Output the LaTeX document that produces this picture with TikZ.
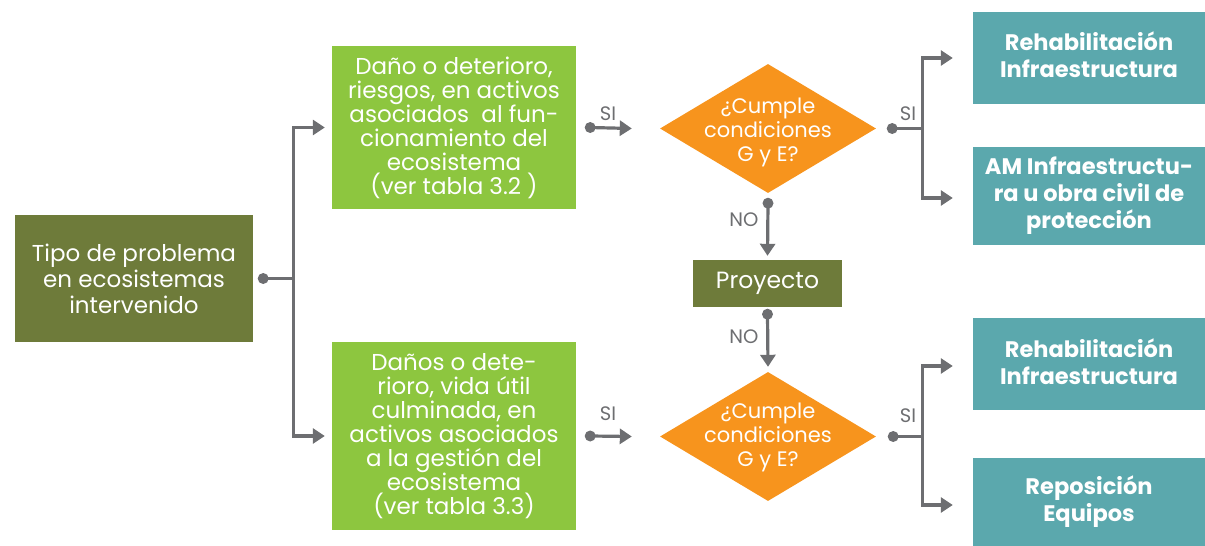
\documentclass[tikz,border=0pt]{standalone}
\usepackage{fontspec}
\setmainfont{Poppins}
\usetikzlibrary{shapes.geometric,arrows.meta}
\definecolor{olive}{HTML}{6E7B3A}
\definecolor{lgreen}{HTML}{8DC63F}
\definecolor{orng}{HTML}{F7941D}
\definecolor{teal2}{HTML}{5BA8AD}
\definecolor{gry}{HTML}{6D6E71}
\tikzset{
  box/.style={draw=none,inner sep=0pt,align=center,text=white,font=\fontsize{23}{24}\selectfont},
  olivebox/.style={box,fill=olive},
  greenbox/.style={box,fill=lgreen,minimum width=244pt},
  tealbox/.style={box,fill=teal2,minimum width=232pt,font=\fontsize{22.5}{27}\selectfont\bfseries},
  decision/.style={diamond,fill=orng,draw=none,inner sep=0pt,minimum width=216pt,minimum height=129pt},
  dtext/.style={align=center,text=white,font=\fontsize{21}{24}\selectfont},
  conn/.style={draw=gry,line width=3.2pt,-{Triangle[length=12pt,width=15pt]}},
  plain/.style={draw=gry,line width=3.2pt},
  dot/.style={fill=gry},
  lbl/.style={text=gry,font=\fontsize{19.5}{20}\selectfont,inner sep=0pt}
}
\begin{document}
\begin{tikzpicture}[x=1pt,y=-1pt]
\useasboundingbox (0,0) rectangle (1205,546);
% nodes
\node[olivebox,minimum width=238pt,minimum height=127pt,font=\fontsize{23}{26}\selectfont] (tipo) at (134,278.5) {Tipo de problema\\en ecosistemas\\intervenido};
\node[greenbox,minimum height=163pt] (g1) at (454,127.5) {Daño o deterioro,\\riesgos, en activos\\asociados\ \ al fun-\\cionamiento del\\ecosistema\\(ver tabla 3.2 )};
\node[greenbox,minimum height=188pt] (g2) at (454,436) {Daños o dete-\\rioro, vida útil\\culminada, en\\activos asociados\\a la gestión del\\ecosistema\\(ver tabla 3.3)};
\node[decision] (c1) at (768,128.5) {};
\node[dtext] (c1t) at ([yshift=-4pt]c1.center) {¿Cumple\\condiciones\\G y E?};
\node[decision] (c2) at (768,436.5) {};
\node[dtext] (c2t) at ([yshift=-1pt]c2.center) {¿Cumple\\condiciones\\G y E?};
\node[olivebox,minimum width=149pt,minimum height=47pt,font=\fontsize{23.5}{26}\selectfont] (proy) at (767.5,283.5) {Proyecto};
\node[tealbox,minimum height=92pt] (t1) at (1089,58) {};
\node[tealbox,fill=none] (t1t) at ([yshift=3pt]t1.center) {Rehabilitación\\Infraestructura};
\node[tealbox,minimum height=98pt] (t2) at (1089,196) {AM Infraestructu-\\ra u obra civil de\\protección};
\node[tealbox,minimum height=92pt] (t3) at (1089,364) {};
\node[tealbox,fill=none] (t3t) at ([yshift=2pt]t3.center) {Rehabilitación\\Infraestructura};
\node[tealbox,minimum height=88pt] (t4) at (1089,502) {Reposición\\Equipos};
% connector anchor points
\coordinate (d0) at ([xshift=10pt]tipo.east);
\coordinate (d1) at ([xshift=14pt]g1.east);
\coordinate (d2) at ([xshift=14pt]g2.east);
\coordinate (d3) at ([xshift=16pt]c1.east);
\coordinate (d4) at ([xshift=17pt]c2.east);
\coordinate (d5) at ([yshift=-10pt]c1.south);
\coordinate (d6) at ([yshift=-7pt]proy.south);
% tipo branches
\draw[plain] (d0) -- ++(30,0) coordinate (b0);
\draw[conn] (b0) |- ([xshift=-7pt]g1.west);
\draw[conn] (b0) |- ([xshift=-7pt]g2.west);
% green to decisions
\draw[conn] (d1) -- ([xshift=-28pt]c1.west);
\draw[conn] (d2) -- ([xshift=-28pt]c2.west);
% decisions to teal
\draw[plain] (d3) -- ++(30,0) coordinate (b1);
\draw[conn] (b1) |- ([xshift=-20pt]t1.west |- 0,58);
\draw[conn] (b1) |- ([xshift=-20pt]t2.west |- 0,198);
\draw[plain] (d4) -- ++(29,0) coordinate (b2);
\draw[conn] (b2) |- ([xshift=-20pt]t3.west |- 0,366);
\draw[conn] (b2) |- ([xshift=-20pt]t4.west |- 0,505);
% NO connectors
\draw[conn] (d5) -- ([yshift=4pt]proy.north);
\draw[conn] (d6) -- ([yshift=5pt]c2.north);
% dots
\foreach \p in {d0,d1,d2,d3,d4,d5,d6} \fill[dot] (\p) circle (5.5pt);
% labels
\node[lbl] (s1) at (608,114) {SI};
\node[lbl] (s2) at (608,414) {SI};
\node[lbl] (s3) at (908,114) {SI};
\node[lbl] (s4) at (908,416) {SI};
\node[lbl] (n1) at (744,220) {NO};
\node[lbl] (n2) at (744,337) {NO};
\end{tikzpicture}
\end{document}
